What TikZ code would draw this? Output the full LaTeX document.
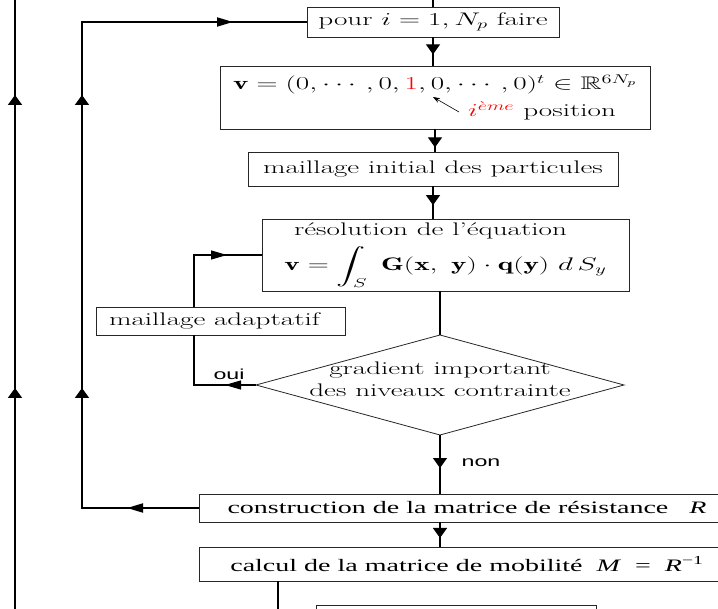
\RequirePackage{fix-cm}
\documentclass[tikz,border=0pt]{standalone}
\usepackage{fontspec}
\usepackage{amsmath,amssymb}
\usepackage{graphicx}
\usetikzlibrary{arrows.meta,shapes.geometric,decorations.markings,calc}
\newfontfamily\tmsfont{Liberation Serif}
\newfontfamily\hvfont{Liberation Sans}
\newcommand{\hs}[1]{\scalebox{1.6}[1]{#1}}
\tikzset{
  box/.style={draw=black!85, line width=0.8pt, inner sep=0pt, outer sep=0pt, align=center,
    font=\fontsize{18.2}{22}\selectfont},
  tbox/.style={box, font=\tmsfont\fontsize{17.5}{21}\selectfont},
  txt/.style={inner sep=0pt, font=\fontsize{18.2}{22}\selectfont},
  sans/.style={inner sep=0pt, font=\hvfont\fontsize{14.5}{17}\selectfont},
  conn/.style={line width=1.1pt},
  loopline/.style={line width=1.8pt},
  vmid/.style={postaction={decorate}, decoration={markings,
    mark=at position #1 with {\arrow{Triangle[length=10pt,width=14pt]}}}},
  hmid/.style={postaction={decorate}, decoration={markings,
    mark=at position #1 with {\arrow{Triangle[length=16pt,width=9pt]}}}},
}
\begin{document}
\begin{tikzpicture}[x=1pt,y=-1pt]
\useasboundingbox (0,0) rectangle (718,609);
\clip (0,0) rectangle (718,609);

% boxes
\node[box, minimum width=252pt, minimum height=30pt] (pour) at (433,22)
  {\hs{pour $i = 1, N_p$ faire}};
\node[box, minimum width=430pt, minimum height=63pt] (vbox) at (435,97.5)
  {\hs{$\mathbf{v} = (0, \cdots, 0, \textcolor{red}{1}, 0, \cdots, 0)^t \in \mathbb{R}^{6N_p}$}\\[5pt]
   \hspace*{214pt}\hs{\textcolor{red}{$i^{\grave{e}me}$} position}};
\node[box, minimum width=370pt, minimum height=34pt] (mi) at (433,169)
  {\hs{maillage initial des particules}};
\node[box, minimum width=367pt, minimum height=72pt] (res) at (445.5,255)
  {\hs{résolution de l'équation}\hspace*{30pt}\\[6pt]
   \hs{$\mathbf{v} = \displaystyle\int_S \ \mathbf{G}(\mathbf{x},\ \mathbf{y})\cdot\mathbf{q}(\mathbf{y})\ d\,S_y$}};
\node[box, minimum width=249pt, minimum height=28pt] (ada) at (220.5,321)
  {\hs{maillage adaptatif}\hspace*{12pt}};
\node[diamond, draw=black!85, line width=0.8pt, inner sep=0pt, outer sep=0pt,
      minimum width=368pt, minimum height=100pt,
      label={[txt, align=center, yshift=6pt]center:\hs{gradient important}\\[0pt]\hs{des niveaux contrainte}}]
      (dia) at (440,385) {};
\node[tbox, minimum width=536pt, minimum height=28pt] (constr) at (467,508)
  {\hs{construction de la matrice de résistance\ \ \ \textit{R}}};
\node[tbox, minimum width=536pt, minimum height=34pt] (calc) at (467,564)
  {\hs{calcul de la matrice de mobilité\ \ \textit{M}\ \ =\ \ \textit{R}\textsuperscript{−1}}};
\node[box, minimum width=280pt, minimum height=40pt, anchor=north west] (last) at (316,605) {};

% labels
\node[sans] (oui) at (229,374) {\hs{oui}};
\node[sans] (non) at (481,463) {\hs{non}};

% coordinates
\coordinate (topin) at (433,-2);
\coordinate (L1b) at (15,612);
\coordinate (L1t) at (15,-3);
\coordinate (L2b) at (82,508);
\coordinate (L2t) at (82,22);
\coordinate (c1) at (194,385);
\coordinate (c2) at (194,255);
\coordinate (bot) at (278,612);
\coordinate (ptrA) at (459,112);
\coordinate (ptrB) at (433,97);

% pointer
\draw[-{Stealth[length=7pt,width=5pt]}, line width=0.6pt] (ptrA) -- (ptrB);

% main flow
\draw[conn] (topin) -- (pour.north);
\draw[conn, vmid=0.6] (pour.south) -- (pour.south |- vbox.north);
\draw[conn, vmid=0.8] (vbox.south) -- (vbox.south |- mi.north);
\draw[conn, vmid=0.58] (mi.south) -- (mi.south |- res.north);
\draw[conn] (dia.north |- res.south) -- (dia.north);
\draw[conn, vmid=0.56] (dia.south) -- (dia.south |- constr.north);
\draw[conn, vmid=0.64] (dia.south |- constr.south) -- (dia.south |- calc.north);
\draw[conn] (calc.south -| bot) -- (bot);

% adaptive loop
\draw[conn, hmid=31pt] (dia.west) -- (c1) -- (c1 |- ada.south);
\draw[conn, hmid=85pt] (c1 |- ada.north) -- (c2) -- (res.west);

% outer loops
\draw[loopline, postaction={decorate}, decoration={markings,
   mark=at position 224pt with {\arrow{Triangle[length=10pt,width=14pt]}},
   mark=at position 517pt with {\arrow{Triangle[length=10pt,width=14pt]}}}]
  (L1b) -- (L1t);
\draw[loopline, postaction={decorate}, decoration={markings,
   mark=at position 72pt with {\arrow{Triangle[length=16pt,width=9pt]}},
   mark=at position 237pt with {\arrow{Triangle[length=10pt,width=14pt]}},
   mark=at position 530pt with {\arrow{Triangle[length=10pt,width=14pt]}},
   mark=at position 754pt with {\arrow{Triangle[length=16pt,width=9pt]}}}]
  (constr.west) -- (L2b) -- (L2t) -- (pour.west);
\end{tikzpicture}
\end{document}
